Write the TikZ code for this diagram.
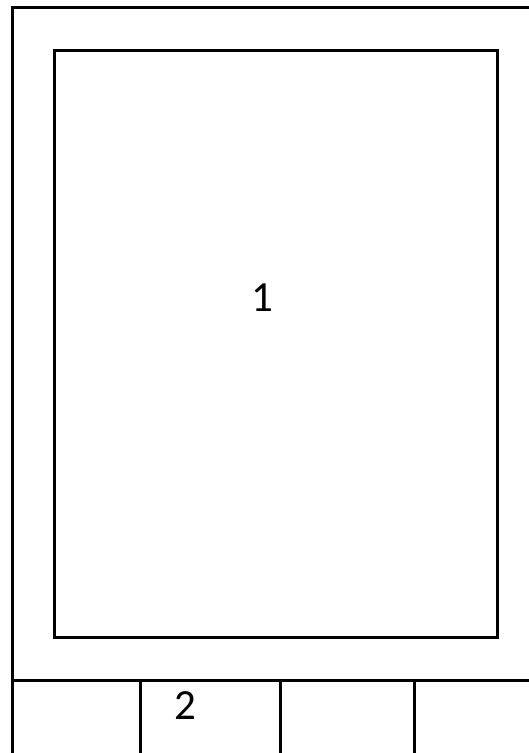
\documentclass[tikz,border=0pt]{standalone}
\usepackage{fontspec}
\setmainfont{Carlito}
\begin{document}
\begin{tikzpicture}[x=1pt,y=-1pt,
  frame/.style={draw=black,line width=3pt},
  lbl/.style={font=\fontsize{43}{45}\selectfont,inner sep=0pt}]
\useasboundingbox (0,0) rectangle (529,753);
\fill[white] (0,0) rectangle (529,753);
% outer frame (extends past right and bottom edges)
\coordinate (otl) at (12,7);
\coordinate (otr) at (535,7);
\coordinate (obl) at (12,760);
\draw[frame] (otr) -- (otl) -- (obl);
% inner box
\node[frame,minimum width=443pt,minimum height=587pt,inner sep=0pt,anchor=north west] (box) at (53,49) {};
\node[lbl] (one) at (262,298) {1};
% bottom row
\coordinate (hl) at (12,680);
\coordinate (hr) at (535,680);
\draw[frame] (hl) -- (hr);
\coordinate (v1t) at (140,680); \coordinate (v1b) at (140,760);
\coordinate (v2t) at (280,680); \coordinate (v2b) at (280,760);
\coordinate (v3t) at (414,680); \coordinate (v3b) at (414,760);
\draw[frame] (v1t) -- (v1b);
\draw[frame] (v2t) -- (v2b);
\draw[frame] (v3t) -- (v3b);
\node[lbl] (two) at (185,706) {2};
\end{tikzpicture}
\end{document}
